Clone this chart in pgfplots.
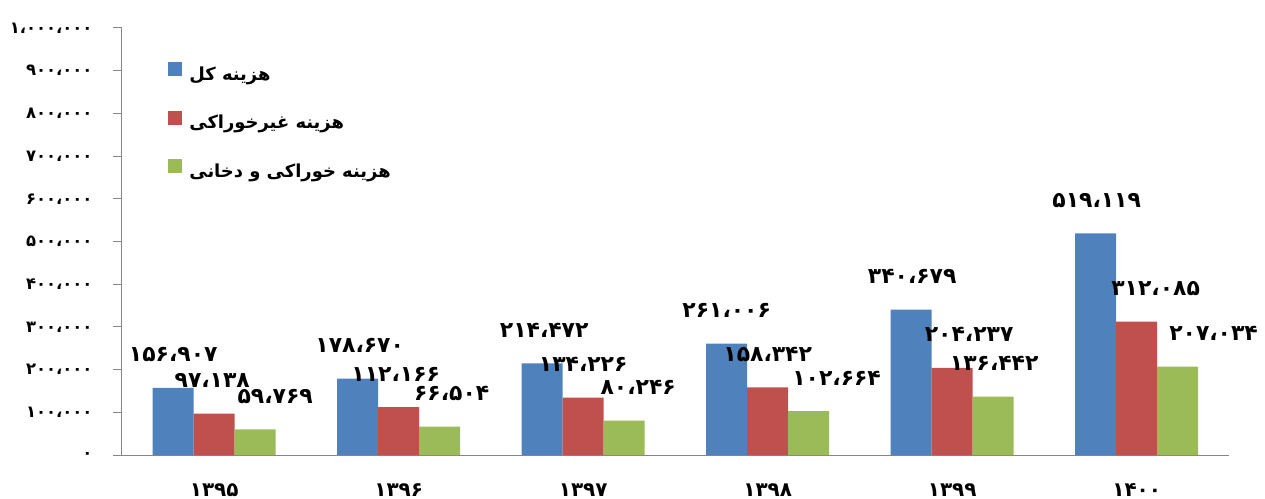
\documentclass[border=0pt]{standalone}
\usepackage{pgfplots}
\usepackage{pgfplotstable}
\usepackage{fontspec}
\pgfplotsset{compat=1.18}
\TeXXeTstate=1
\newfontfamily\fa[Script=Arabic]{DejaVu Sans}
\definecolor{cBlue}{HTML}{4F81BD}
\definecolor{cRed}{HTML}{C0504D}
\definecolor{cGreen}{HTML}{9BBB59}
\definecolor{cAxis}{HTML}{868686}

\pgfplotstableread{
x y dx label
0 156907 0 ۱۵۶،۹۰۷
1 178670 2 ۱۷۸،۶۷۰
2 214472 2 ۲۱۴،۴۷۲
3 261006 0 ۲۶۱،۰۰۶
4 340679 1 ۳۴۰،۶۷۹
5 519119 1 ۵۱۹،۱۱۹
}\tblTotal
\pgfplotstableread{
x y dx label
0 97138 -2 ۹۷،۱۳۸
1 112166 -3 ۱۱۲،۱۶۶
2 134226 0 ۱۳۴،۲۲۶
3 158342 0 ۱۵۸،۳۴۲
4 204237 17 ۲۰۴،۲۳۷
5 312085 19 ۳۱۲،۰۸۵
}\tblNonFood
\pgfplotstableread{
x y dx label
0 59769 20 ۵۹،۷۶۹
1 66504 12 ۶۶،۵۰۴
2 80246 14 ۸۰،۲۴۶
3 102664 28 ۱۰۲،۶۶۴
4 136442 1 ۱۳۶،۴۴۲
5 207034 36 ۲۰۷،۰۳۴
}\tblFood

\begin{document}
\begin{tikzpicture}
\begin{axis}[
  scale only axis,
  width=1107bp, height=427bp,
  xmin=-0.5, xmax=5.5,
  ymin=0, ymax=1000000,
  ybar=0pt, bar width=41bp,
  axis x line*=bottom, axis y line*=left,
  axis line style={cAxis, line width=1bp},
  tick align=outside,
  major tick length=9bp, minor tick length=8bp,
  xtick={0,...,5},
  xticklabels={۱۳۹۵,۱۳۹۶,۱۳۹۷,۱۳۹۸,۱۳۹۹,۱۴۰۰},
  minor xtick={-0.5,0.5,...,5.5},
  xtick style={draw=none},
  minor x tick style={cAxis, line width=1bp},
  ytick={0,100000,...,1000000},
  yticklabels={۰,۱۰۰،۰۰۰,۲۰۰،۰۰۰,۳۰۰،۰۰۰,۴۰۰،۰۰۰,۵۰۰،۰۰۰,۶۰۰،۰۰۰,۷۰۰،۰۰۰,۸۰۰،۰۰۰,۹۰۰،۰۰۰,۱،۰۰۰،۰۰۰},
  y tick style={cAxis, line width=1bp},
  yticklabel style={font=\fa\bfseries\fontsize{16.5}{19}\selectfont, xshift=-17bp},
  xticklabel style={font=\fa\bfseries\fontsize{20}{24}\selectfont, yshift=-16bp},
  scaled y ticks=false,
  point meta=explicit symbolic,
  visualization depends on={\thisrow{dx}\as\dx},
  nodes near coords,
  nodes near coords style={font=\fa\bfseries\fontsize{22}{26}\selectfont, anchor=center, yshift=33bp, xshift=\dx, text=black},
  legend style={at={(0.039,0.925)}, anchor=north west, draw=none, fill=none,
    font=\fa\bfseries\fontsize{18}{20}\selectfont, row sep=27bp, column sep=5bp},
  legend cell align=left,
  legend image code/.code={\fill[#1,draw=none] (0bp,-2bp) rectangle (14bp,12bp);},
  clip=false,
]
\addplot[fill=cBlue, draw=none] table[x=x, y=y, meta=label] {\tblTotal};
\addlegendentry{\beginR هزینه کل\endR}
\addplot[fill=cRed, draw=none] table[x=x, y=y, meta=label] {\tblNonFood};
\addlegendentry{\beginR هزینه غیرخوراکی\endR}
\addplot[fill=cGreen, draw=none] table[x=x, y=y, meta=label] {\tblFood};
\addlegendentry{\beginR هزینه خوراکی و دخانی\endR}
\end{axis}
\pgfresetboundingbox
\path (-122bp,-44bp) rectangle (1143bp,455bp);
\end{tikzpicture}
\end{document}
